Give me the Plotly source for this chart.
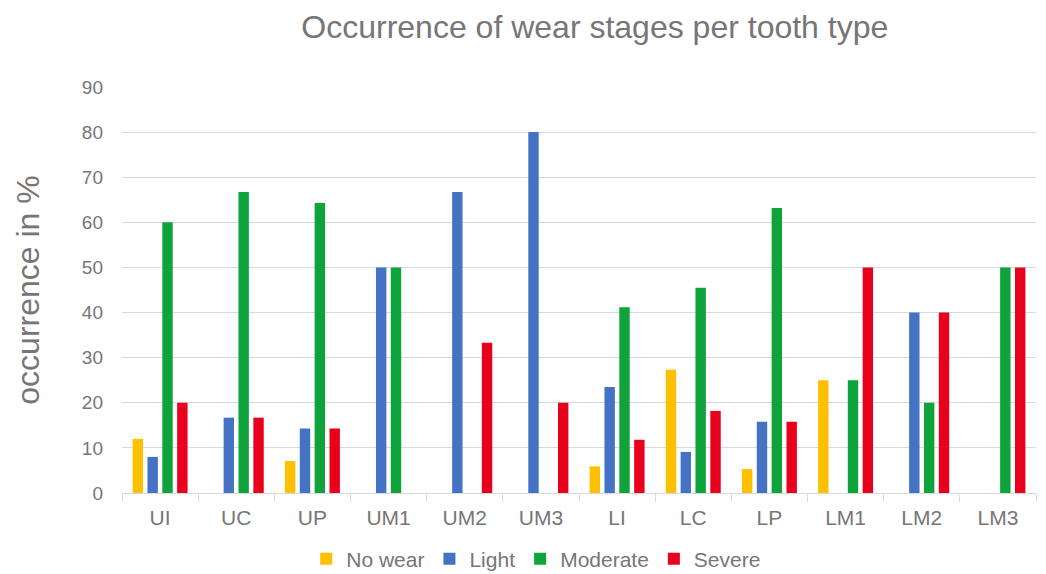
import plotly.graph_objects as go

categories = ["UI", "UC", "UP", "UM1", "UM2", "UM3", "LI", "LC", "LP", "LM1", "LM2", "LM3"]
no_wear = [12, 0, 7.1, 0, 0, 0, 5.9, 27.3, 5.3, 25, 0, 0]
light = [8, 16.7, 14.3, 50, 66.7, 80, 23.5, 9.1, 15.8, 0, 40, 0]
moderate = [60, 66.7, 64.3, 50, 0, 0, 41.2, 45.5, 63.2, 25, 20, 50]
severe = [20, 16.7, 14.3, 0, 33.3, 20, 11.8, 18.2, 15.8, 50, 40, 50]
series_names = ["No wear", "Light", "Moderate", "Severe"]
colors = ["#FFC000", "#4472C4", "#0FA33B", "#E8001C"]

fig = go.Figure()
for name, vals, col in zip(series_names, [no_wear, light, moderate, severe], colors):
    fig.add_trace(go.Bar(x=categories, y=vals, name=name, marker_color=col, marker_line_width=0))

txt = "#767676"
fig.update_layout(
    width=1046, height=574,
    paper_bgcolor="white", plot_bgcolor="white",
    font=dict(family="Liberation Sans, Arial, sans-serif", color=txt),
    title=dict(text="Occurrence of wear stages per tooth type", x=0.561, xanchor="center",
               xref="container", y=0.967, yanchor="middle", yref="container",
               font=dict(size=32, color=txt)),
    margin=dict(l=114, r=18, t=79, b=89),
    barmode="group", bargap=0.22, bargroupgap=0.3,
    legend=dict(orientation="h", x=0.505, xanchor="center", xref="container",
                yref="container", y=0.04, yanchor="middle",
                font=dict(size=21, color=txt), itemwidth=30,
                traceorder="normal", tracegroupgap=0),
    showlegend=True,
)
fig.update_yaxes(range=[0, 90], dtick=10, showgrid=True, gridcolor="#D9D9D9", gridwidth=1,
                 tickfont=dict(size=19, color=txt), zeroline=False, showline=False,
                 ticks="", ticklabelstandoff=18, automargin=False,
                 title=dict(text="occurrence in %", font=dict(size=32, color=txt), standoff=32))
fig.update_xaxes(showline=True, linecolor="#D9D9D9", linewidth=1, ticks="outside",
                 tickson="boundaries", ticklen=8, tickcolor="#D9D9D9", automargin=False,
                 ticklabelstandoff=6, tickfont=dict(size=21, color=txt))
fig.write_html("out.html")
